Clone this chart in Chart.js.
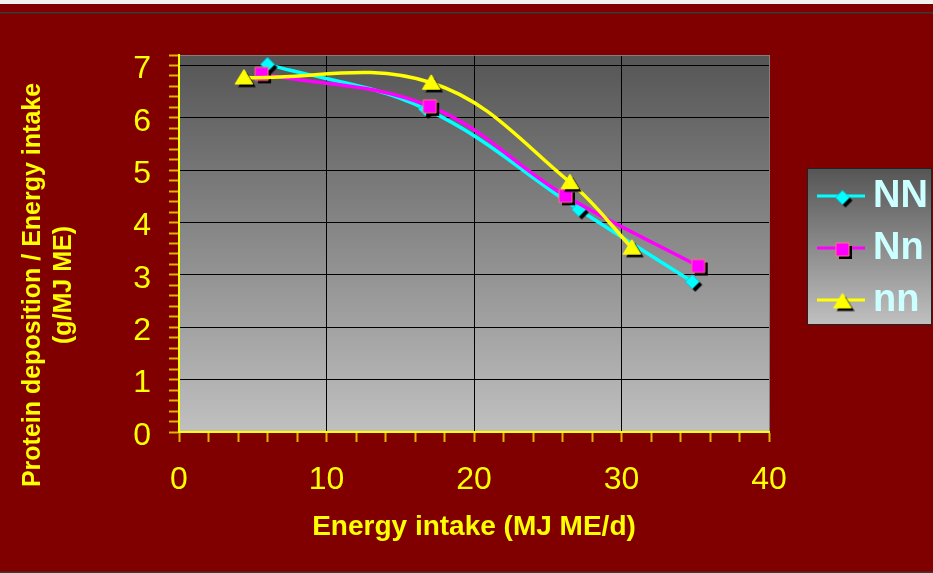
<!DOCTYPE html>
<html>
<head>
<meta charset="utf-8">
<script src="https://cdn.jsdelivr.net/npm/chart.js@4"></script>
<style>
  html, body { margin: 0; padding: 0; background: #800000; }
  #wrap { width: 933px; height: 573px; }
</style>
</head>
<body>
<div id="wrap"><canvas id="chart" width="933" height="573"></canvas></div>
<script>
// data
const seriesNames = ['NN', 'Nn', 'nn'];
const NN_x = [6.0, 16.7, 27.1, 34.8];
const NN_y = [7.02, 6.17, 4.25, 2.87];
const Nn_x = [5.6, 17.0, 26.2, 35.2];
const Nn_y = [6.84, 6.22, 4.51, 3.17];
const nn_x = [4.4, 17.1, 26.5, 30.7];
const nn_y = [6.77, 6.67, 4.77, 3.52];
const xTickLabels = [0, 10, 20, 30, 40];
const yTickLabels = [0, 1, 2, 3, 4, 5, 6, 7];

const FONT = '"Liberation Sans", Arial, sans-serif';
const YELLOW = '#ffff00';
const TICK_GOLD = '#e0b400';

function pts(xs, ys) {
  return xs.map((x, i) => ({ x: x, y: ys[i] }));
}

function isWhole(v, step) {
  const r = v / step;
  return Math.abs(r - Math.round(r)) < 1e-6;
}

// marker pictures with a hard black shadow
function makeMarker(kind, half) {
  const off = 3;
  const size = 2 * (half + off) + 2;
  const c = document.createElement('canvas');
  c.width = size;
  c.height = size;
  const g = c.getContext('2d');
  const cx = size / 2, cy = size / 2;
  function shape(x, y) {
    g.beginPath();
    if (kind === 'diamond') {
      g.moveTo(x, y - half); g.lineTo(x + half, y); g.lineTo(x, y + half); g.lineTo(x - half, y);
    } else if (kind === 'square') {
      g.rect(x - half, y - half, half * 2, half * 2);
    } else {
      g.moveTo(x, y - half); g.lineTo(x + half * 1.1, y + half * 0.8); g.lineTo(x - half * 1.1, y + half * 0.8);
    }
    g.closePath();
  }
  shape(cx + off, cy + off);
  g.fillStyle = '#000';
  g.fill();
  shape(cx, cy);
  if (kind === 'diamond') { g.fillStyle = '#00ffff'; g.strokeStyle = '#00c8d8'; }
  else if (kind === 'square') { g.fillStyle = '#ff00ff'; g.strokeStyle = '#ff7080'; }
  else { g.fillStyle = '#ffff00'; g.strokeStyle = '#ffff00'; }
  g.fill();
  g.lineWidth = 1;
  g.stroke();
  return c;
}

const markers = {
  NN: makeMarker('diamond', 7),
  Nn: makeMarker('square', 6.5),
  nn: makeMarker('triangle', 8)
};
const colors = { NN: '#00ffff', Nn: '#ff00ff', nn: '#ffff00' };

// page background, plot gradient
const backdrop = {
  id: 'backdrop',
  beforeDraw(chart) {
    const ctx = chart.ctx;
    const a = chart.chartArea;
    ctx.save();
    ctx.fillStyle = '#800000';
    ctx.fillRect(0, 0, chart.width, chart.height);
    ctx.fillStyle = '#f2f2f0';
    ctx.fillRect(0, 0, chart.width, 4);
    ctx.fillStyle = '#3a3a3a';
    ctx.fillRect(0, 12, chart.width, 1.5);
    ctx.fillRect(0, chart.height - 1.5, chart.width, 1.5);
    const grad = ctx.createLinearGradient(0, a.top, 0, a.bottom);
    grad.addColorStop(0, '#555555');
    grad.addColorStop(1, '#c0c0c0');
    ctx.fillStyle = grad;
    ctx.fillRect(a.left, a.top, a.right - a.left, a.bottom - a.top);
    ctx.restore();
  }
};

// rotated two-line y title
const yTitle = {
  id: 'yTitle',
  afterDraw(chart) {
    const ctx = chart.ctx;
    ctx.save();
    ctx.fillStyle = YELLOW;
    ctx.font = 'bold 25px ' + FONT;
    ctx.textAlign = 'center';
    ctx.textBaseline = 'middle';
    ctx.translate(33, 285);
    ctx.rotate(-Math.PI / 2);
    ctx.fillText('Protein deposition / Energy intake', 0, 0);
    ctx.fillText('(g/MJ ME)', 0, 31);
    ctx.restore();
  }
};

// legend box on the right
const sideLegend = {
  id: 'sideLegend',
  afterDraw(chart) {
    const ctx = chart.ctx;
    const box = { x: 807.5, y: 168.5, w: 124, h: 156 };
    ctx.save();
    const grad = ctx.createLinearGradient(0, box.y, 0, box.y + box.h);
    grad.addColorStop(0, '#555555');
    grad.addColorStop(1, '#c0c0c0');
    ctx.fillStyle = grad;
    ctx.fillRect(box.x, box.y, box.w, box.h);
    ctx.strokeStyle = '#222';
    ctx.lineWidth = 1;
    ctx.strokeRect(box.x, box.y, box.w, box.h);
    const rows = [196, 248, 300];
    seriesNames.forEach((name, i) => {
      const y = rows[i];
      ctx.strokeStyle = colors[name];
      ctx.lineWidth = 3;
      ctx.beginPath();
      ctx.moveTo(817, y);
      ctx.lineTo(865, y);
      ctx.stroke();
      const m = markers[name];
      ctx.drawImage(m, 841 - m.width / 2 + 1.5, y - m.height / 2 + 1.5);
      ctx.fillStyle = '#ccffff';
      ctx.font = 'bold 38px ' + FONT;
      ctx.textAlign = 'left';
      ctx.textBaseline = 'middle';
      ctx.fillText(name, 873, y + 1);
    });
    ctx.restore();
  }
};

function dataset(name, xs, ys, order) {
  return {
    label: name,
    data: pts(xs, ys),
    borderColor: colors[name],
    backgroundColor: colors[name],
    borderWidth: 3.5,
    tension: 0.38,
    pointStyle: markers[name],
    pointRadius: 7,
    order: order
  };
}

const ctx = document.getElementById('chart').getContext('2d');
new Chart(ctx, {
  type: 'line',
  data: {
    datasets: [
      dataset('NN', NN_x, NN_y, 2),
      dataset('Nn', Nn_x, Nn_y, 1),
      dataset('nn', nn_x, nn_y, 0)
    ]
  },
  plugins: [backdrop, yTitle, sideLegend],
  options: {
    responsive: false,
    animation: false,
    events: [],
    layout: { padding: { top: 55, right: 164, left: 0, bottom: 0 } },
    plugins: {
      legend: { display: false },
      tooltip: { enabled: false }
    },
    scales: {
      x: {
        type: 'linear',
        min: 0,
        max: 40,
        afterFit(scale) { scale.height = 141; },
        border: { color: YELLOW, width: 2 },
        grid: {
          color: c => {
            const v = c.tick.value;
            if (v === 0) return 'rgba(0,0,0,0)';
            if (v === 40) return '#808080';
            return isWhole(v, 10) ? '#000000' : 'rgba(0,0,0,0)';
          },
          tickColor: TICK_GOLD,
          tickLength: 10,
          tickWidth: 2
        },
        ticks: {
          stepSize: 2,
          autoSkip: false,
          maxRotation: 0,
          padding: 19,
          color: YELLOW,
          font: { family: FONT, size: 32 },
          callback: v => xTickLabels.includes(v) ? String(v) : ''
        },
        title: {
          display: true,
          text: 'Energy intake (MJ ME/d)',
          color: YELLOW,
          font: { family: FONT, size: 28, weight: 'bold' },
          padding: { top: 0, bottom: 29 }
        }
      },
      y: {
        min: 0,
        max: 7.2,
        afterFit(scale) { scale.width = 179; },
        border: { color: YELLOW, width: 2 },
        grid: {
          color: c => {
            const v = c.tick.value;
            if (Math.abs(v) < 1e-6) return 'rgba(0,0,0,0)';
            if (Math.abs(v - 7.2) < 1e-6) return '#808080';
            return isWhole(v, 1) ? '#000000' : 'rgba(0,0,0,0)';
          },
          tickColor: TICK_GOLD,
          tickLength: 10,
          tickWidth: 2
        },
        ticks: {
          stepSize: 0.2,
          maxTicksLimit: 100,
          autoSkip: false,
          padding: 18,
          labelOffset: 4,
          color: YELLOW,
          font: { family: FONT, size: 32 },
          callback: v => {
            const r = Math.round(v);
            return (Math.abs(v - r) < 1e-6 && yTickLabels.includes(r)) ? String(r) : '';
          }
        }
      }
    }
  }
});
</script>
</body>
</html>
